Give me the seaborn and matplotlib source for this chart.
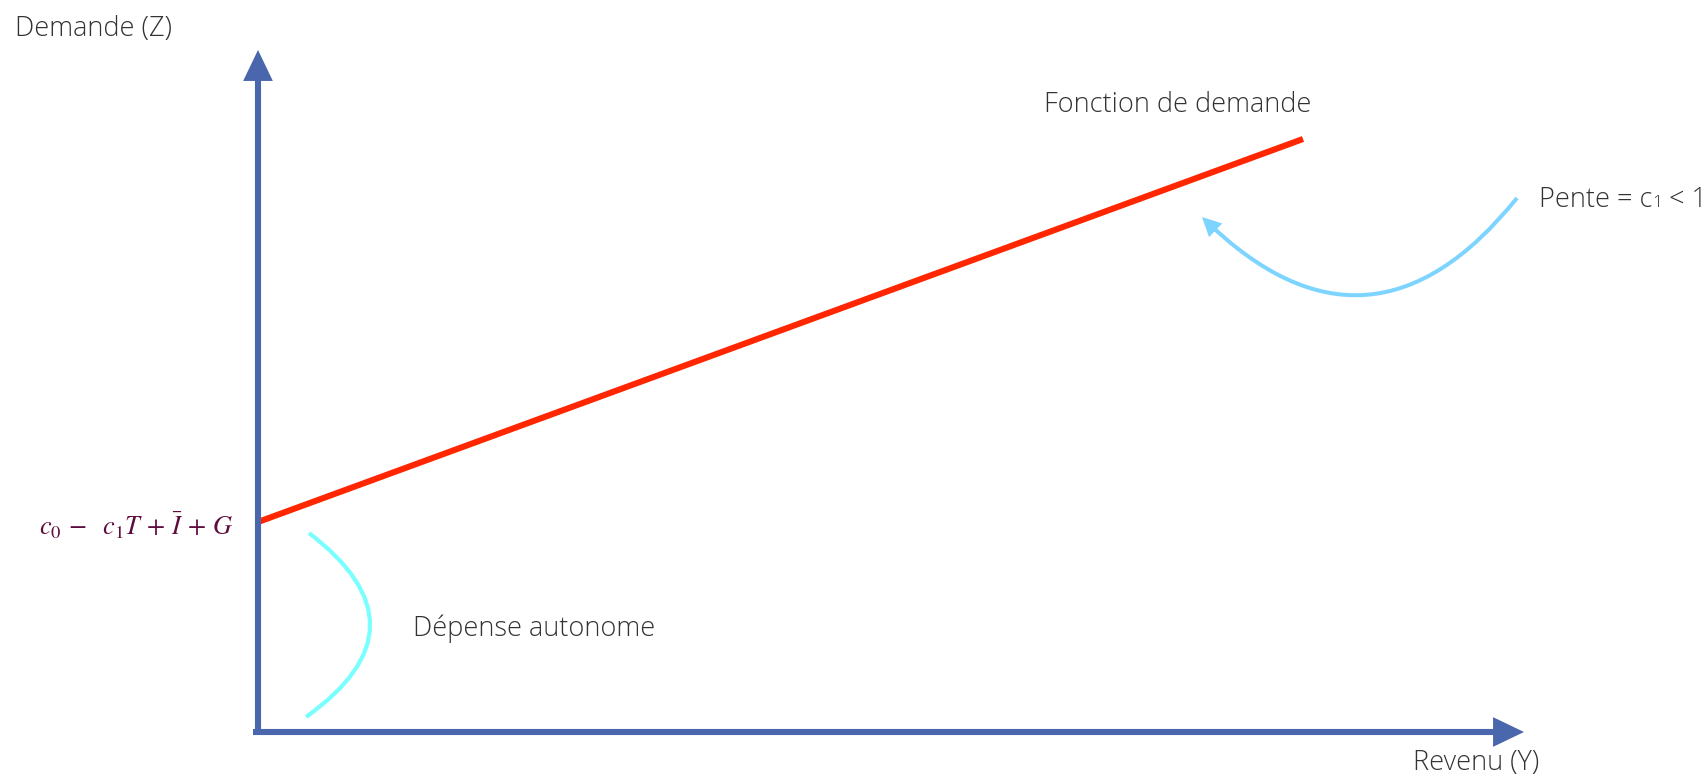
import matplotlib
matplotlib.use('Agg')
import matplotlib.pyplot as plt
import seaborn as sns

# Keynesian demand diagram: Z = c0 - c1 T + I + G + c1 Y
# coordinates in chart units (origin at the axes corner)
axis_Y = [0.0, 12.66]          # horizontal axis, Revenu (Y)
axis_Z = [0.0, 6.82]           # vertical axis, Demande (Z)
demand_Y = [0.0, 10.45]        # demand function
demand_Z = [2.10, 5.93]
autonome_Y = [0.51, 0.48]      # brace for the autonomous spending
autonome_Z = [1.99, 0.15]
pente_Y = [12.59, 9.44]        # curved arrow pointing to the slope
pente_Z = [5.34, 5.15]

AXIS_COL = '#4A66AC'
RED = '#FF2600'
CYAN = '#7AFFFF'
SKY = '#7DD4FF'
TXT = '#333333'
FORMULA = '#5E0B3E'

sns.set_theme(style='white')
plt.rcParams['font.family'] = ['Open Sans', 'DejaVu Sans']
plt.rcParams['mathtext.fontset'] = 'stix'

fig = plt.figure(figsize=(17.05, 7.78), dpi=100)
ax = fig.add_axes([0, 0, 1, 1])
ax.set_xlim(-2.58, 14.47)
ax.set_ylim(-0.46, 7.32)
ax.axis('off')

# axes with arrow heads
head = '-|>,head_length=0.75,head_width=0.36'
ax.annotate('', xy=(axis_Y[1], 0), xytext=(-0.05, 0),
            arrowprops=dict(arrowstyle=head, mutation_scale=20, color=AXIS_COL,
                            lw=4.4, shrinkA=0, shrinkB=0, joinstyle='miter',
                            capstyle='butt'))
ax.annotate('', xy=(0, axis_Z[1]), xytext=(0, 0),
            arrowprops=dict(arrowstyle=head, mutation_scale=20, color=AXIS_COL,
                            lw=4.4, shrinkA=0, shrinkB=0, joinstyle='miter',
                            capstyle='butt'))

# demand function
sns.lineplot(x=demand_Y, y=demand_Z, ax=ax, color=RED, linewidth=4.4,
             solid_capstyle='butt')

# autonomous spending brace
ax.annotate('', xy=(autonome_Y[1], autonome_Z[1]), xytext=(autonome_Y[0], autonome_Z[0]),
            arrowprops=dict(arrowstyle='-', connectionstyle='arc3,rad=-0.68',
                            color=CYAN, lw=3.0, shrinkA=0, shrinkB=0,
                            capstyle='butt'))

# slope arrow
ax.annotate('', xy=(pente_Y[1], pente_Z[1]), xytext=(pente_Y[0], pente_Z[0]),
            arrowprops=dict(arrowstyle='-|>,head_length=0.6,head_width=0.3',
                            mutation_scale=15, connectionstyle='arc3,rad=-0.55',
                            color=SKY, lw=2.9, shrinkA=0, shrinkB=0,
                            joinstyle='miter', capstyle='butt'))

# labels
fs = 19.5
ax.text(-2.43, 6.96, 'Demande (Z)', fontsize=fs, color=TXT, weight='light',
        ha='left', va='baseline')
ax.text(11.55, -0.38, 'Revenu (Y)', fontsize=fs, color=TXT, weight='light',
        ha='left', va='baseline')
ax.text(7.86, 6.20, 'Fonction de demande', fontsize=fs, color=TXT, weight='light',
        ha='left', va='baseline')
ax.text(1.55, 0.96, 'Dépense autonome', fontsize=fs, color=TXT, weight='light',
        ha='left', va='baseline')

t1 = ax.text(12.81, 5.25, 'Pente = c', fontsize=fs, color=TXT, weight='light',
             ha='left', va='baseline')
t2 = ax.annotate('1', xy=(1, 5.25), xycoords=(t1, 'data'), fontsize=12.5,
                 color=TXT, weight='light', ha='left', va='baseline')
ax.annotate(' < 1', xy=(1, 5.25), xycoords=(t2, 'data'), fontsize=fs, color=TXT,
            weight='light', ha='left', va='baseline')

ax.text(-0.25, 1.97, r'$c_0\,-\ \ c_1T\,+\,\bar{I}\,+\,G$', fontsize=19,
        color=FORMULA, ha='right', va='baseline')

fig.savefig('out.png', dpi=100, facecolor='white')
